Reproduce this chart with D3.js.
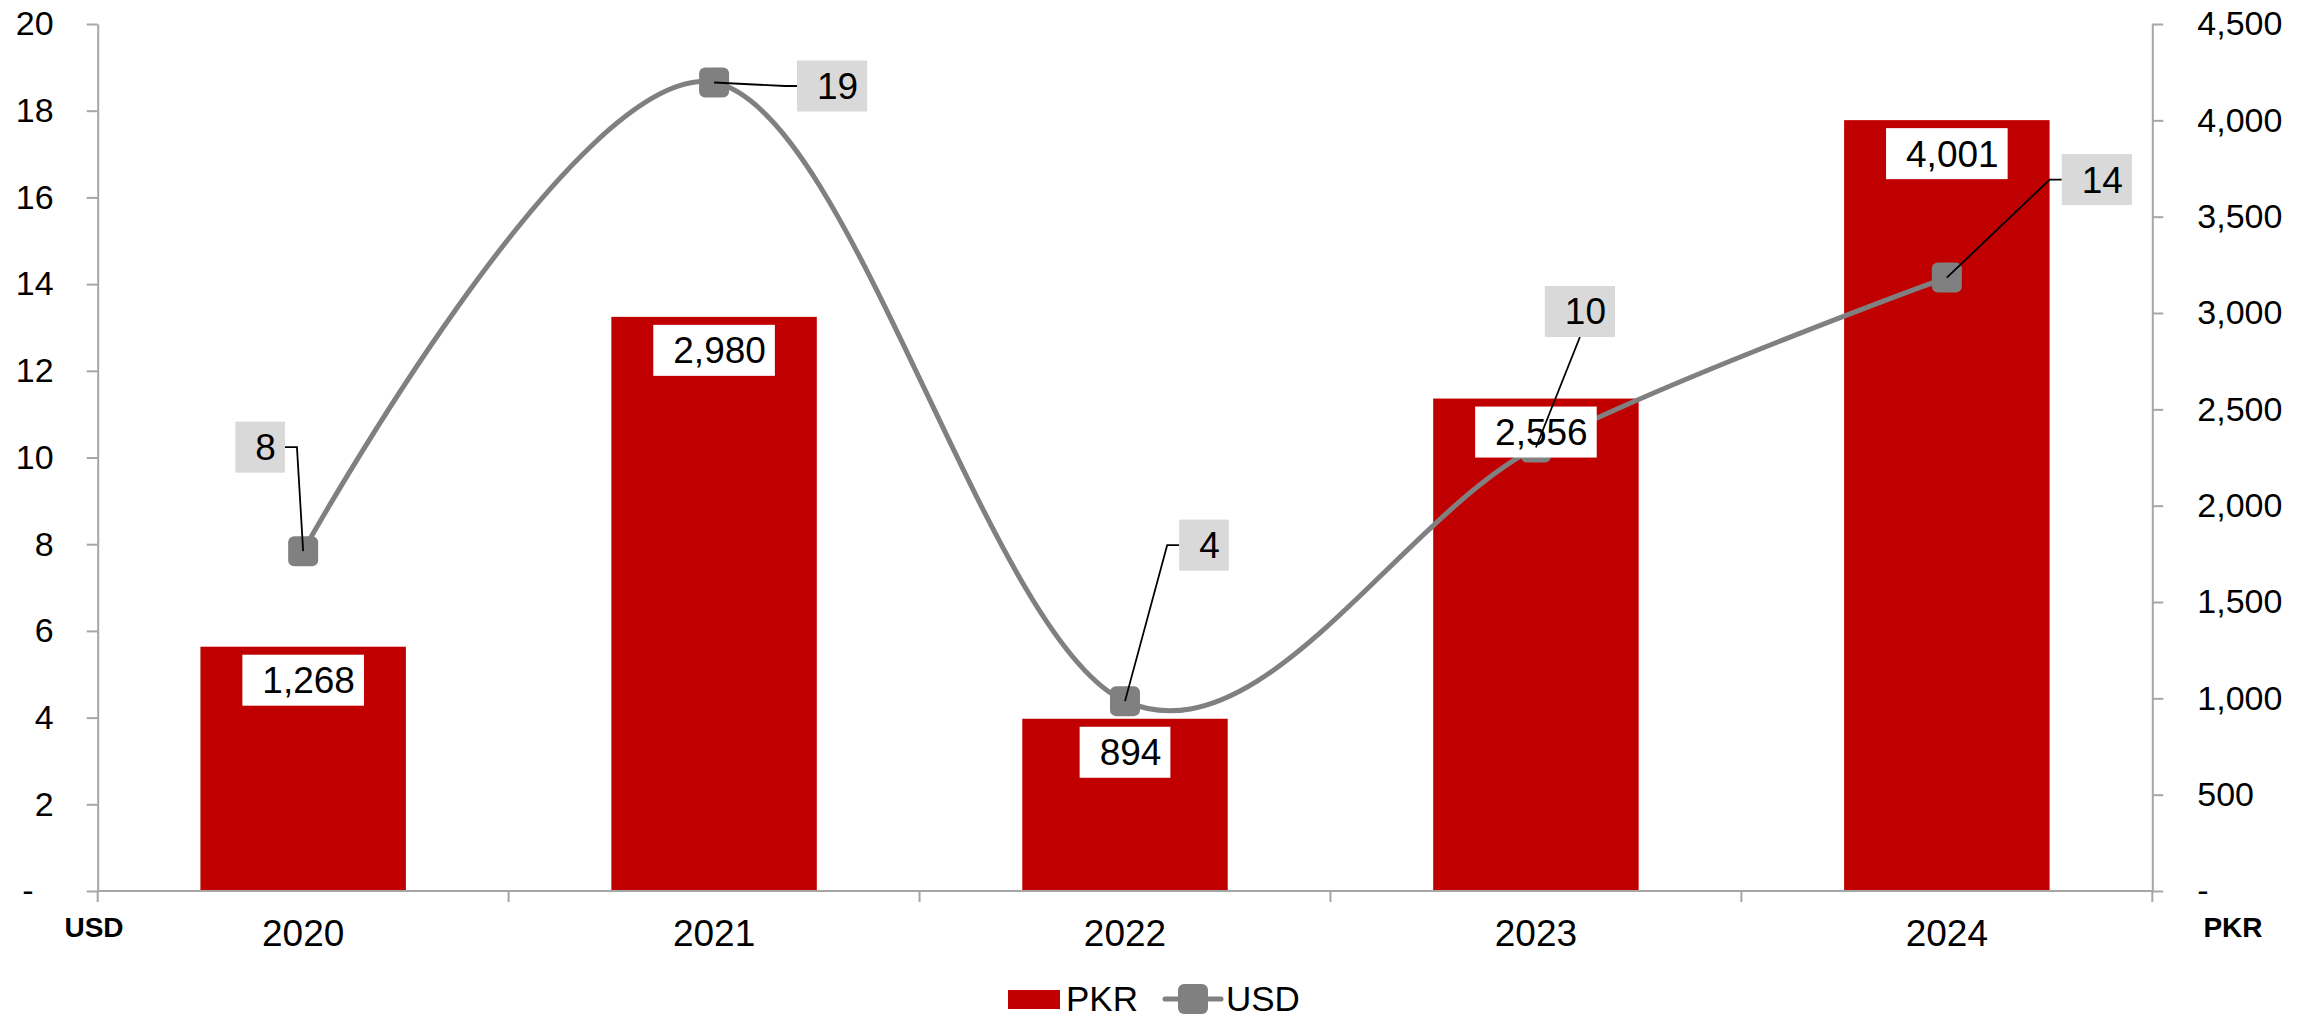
<!DOCTYPE html>
<meta charset="utf-8">
<style>
    body { margin: 0; background: #fff; }
    svg text { font-family: "Liberation Sans", Arial, sans-serif; fill: #000; }
    .axis .domain { stroke: #a6a6a6; stroke-width: 2; }
    .axis line { stroke: #a6a6a6; stroke-width: 2; }
    .leader { stroke: #000; stroke-width: 1.8; fill: none; }
</style>
<svg width="2321" height="1018"></svg>
<script src="https://cdn.jsdelivr.net/npm/d3@7"></script>
<script>

    // data
    var years = ["2020", "2021", "2022", "2023", "2024"];
    var pkr = [1268, 2980, 894, 2556, 4001];
    var usd = [7.84, 18.65, 4.38, 10.23, 14.15];
    var usdLabels = ["8", "19", "4", "10", "14"];
    var leftTicks = [0, 2, 4, 6, 8, 10, 12, 14, 16, 18, 20];
    var rightTicks = [0, 500, 1000, 1500, 2000, 2500, 3000, 3500, 4000, 4500];
    var legendNames = ["PKR", "USD"];

    // where each usd callout sits relative to its marker
    var usdCallout = [
        { dx: -43, dy: -104, side: "right" },
        { dx: 118, dy: 3.5, side: "left" },
        { dx: 79, dy: -156, side: "left" },
        { dx: 44, dy: -136, side: "bottom" },
        { dx: 150, dy: -98, side: "left" }
    ];

    var svg = d3.select("svg");
    var plotLeft = 97.7, plotRight = 2152.3, plotTop = 24, plotBottom = 891;
    var red = "#c00000", grey = "#808080";

    var x = d3.scaleBand()
        .domain(years)
        .range([plotLeft, plotRight])
        .paddingInner(0.5)
        .paddingOuter(0.25);

    var yL = d3.scaleLinear().domain([0, 20]).range([plotBottom, plotTop]);
    var yR = d3.scaleLinear().domain([0, 4500]).range([plotBottom, plotTop]);

    var cx = function (d, i) { return x(years[i]) + x.bandwidth() / 2; };

    // bars
    svg.append("g")
        .selectAll("rect")
        .data(pkr)
        .enter().append("rect")
        .attr("x", function (d, i) { return x(years[i]); })
        .attr("width", x.bandwidth())
        .attr("y", function (d) { return yR(d); })
        .attr("height", function (d) { return plotBottom - yR(d); })
        .attr("fill", red);

    // axes
    var gl = svg.append("g")
        .attr("class", "axis")
        .attr("transform", "translate(" + plotLeft + ",0)")
        .call(d3.axisLeft(yL)
            .tickValues(leftTicks)
            .tickSize(11)
            .tickSizeOuter(0)
            .tickPadding(33)
            .tickFormat(function (d) { return d === 0 ? "-" : d; }))
        .attr("font-size", 34)
        .attr("font-family", null);
    gl.selectAll(".tick text").filter(function (d) { return d === 0; }).attr("dx", -20);

    svg.append("g")
        .attr("class", "axis")
        .attr("transform", "translate(" + plotRight + ",0)")
        .call(d3.axisRight(yR)
            .tickValues(rightTicks)
            .tickSize(11)
            .tickSizeOuter(0)
            .tickPadding(34)
            .tickFormat(function (d) { return d === 0 ? "-" : d3.format(",")(d); }))
        .attr("font-size", 34)
        .attr("font-family", null);

    var gx = svg.append("g")
        .attr("class", "axis")
        .attr("transform", "translate(0," + plotBottom + ")")
        .call(d3.axisBottom(x).tickSize(0).tickPadding(29))
        .attr("font-size", 37)
        .attr("font-family", null);
    gx.select(".domain").attr("d", "M" + plotLeft + ",0H" + plotRight);

    gx.selectAll(".bound")
        .data(d3.range(years.length + 1))
        .enter().append("line")
        .attr("x1", function (i) { return plotLeft + i * x.step(); })
        .attr("x2", function (i) { return plotLeft + i * x.step(); })
        .attr("y1", 0)
        .attr("y2", 11);

    svg.append("text")
        .attr("x", 94).attr("y", 937)
        .attr("text-anchor", "middle")
        .attr("font-weight", "bold")
        .attr("font-size", 28)
        .text("USD");

    svg.append("text")
        .attr("x", 2233).attr("y", 937)
        .attr("text-anchor", "middle")
        .attr("font-weight", "bold")
        .attr("font-size", 28)
        .text("PKR");

    // usd line
    var line = d3.line()
        .x(cx)
        .y(function (d) { return yL(d); })
        .curve(d3.curveCardinal.tension(0));

    svg.append("path")
        .datum(usd)
        .attr("d", line)
        .attr("fill", "none")
        .attr("stroke", grey)
        .attr("stroke-width", 5);

    svg.append("g")
        .selectAll("rect")
        .data(usd)
        .enter().append("rect")
        .attr("x", function (d, i) { return cx(d, i) - 15; })
        .attr("y", function (d) { return yL(d) - 15; })
        .attr("width", 30)
        .attr("height", 30)
        .attr("rx", 6)
        .attr("fill", grey);

    // pkr labels (white boxes)
    var pl = svg.append("g").selectAll("g")
        .data(pkr)
        .enter().append("g");

    pl.append("rect").attr("fill", "#fff");
    pl.append("text")
        .attr("font-size", 37)
        .attr("text-anchor", "end")
        .text(function (d) { return d3.format(",")(d); });

    pl.each(function (d, i) {
        var g = d3.select(this);
        var w = g.select("text").node().getComputedTextLength() + 29;
        var bx = cx(d, i) - w / 2, by = yR(d) + 8;
        g.select("rect").attr("x", bx).attr("y", by).attr("width", w).attr("height", 51);
        g.select("text").attr("x", bx + w - 9).attr("y", by + 25.5).attr("dy", "0.35em");
    });

    // usd labels (grey boxes with leader lines)
    var ul = svg.append("g").selectAll("g")
        .data(usd)
        .enter().append("g");

    ul.append("path").attr("class", "leader");
    ul.append("rect").attr("fill", "#d9d9d9");
    ul.append("text")
        .attr("font-size", 37)
        .attr("text-anchor", "end")
        .text(function (d, i) { return usdLabels[i]; });

    ul.each(function (d, i) {
        var g = d3.select(this);
        var c = usdCallout[i];
        var mx = cx(d, i), my = yL(d);
        var w = g.select("text").node().getComputedTextLength() + 29, h = 51;
        var bxc = mx + c.dx, byc = my + c.dy;
        var bx = bxc - w / 2, by = byc - h / 2;
        g.select("rect").attr("x", bx).attr("y", by).attr("width", w).attr("height", h);
        g.select("text").attr("x", bx + w - 9).attr("y", byc).attr("dy", "0.35em");
        var p;
        if (c.side === "right") p = [[bx + w, byc], [bx + w + 12, byc], [mx, my]];
        else if (c.side === "left") p = [[bx, byc], [bx - 12, byc], [mx, my]];
        else p = [[bxc, by + h], [mx, my]];
        g.select("path").attr("d", d3.line()(p));
    });

    // legend
    var lg = svg.append("g");
    lg.append("rect")
        .attr("x", 1008).attr("y", 990)
        .attr("width", 52).attr("height", 19)
        .attr("fill", red);
    lg.append("line")
        .attr("x1", 1165).attr("x2", 1221)
        .attr("y1", 999).attr("y2", 999)
        .attr("stroke", grey).attr("stroke-width", 5)
        .attr("stroke-linecap", "round");
    lg.append("rect")
        .attr("x", 1178).attr("y", 984)
        .attr("width", 30).attr("height", 30)
        .attr("rx", 6)
        .attr("fill", grey);
    lg.selectAll("text")
        .data(legendNames)
        .enter().append("text")
        .attr("x", function (d, i) { return i ? 1226 : 1066; })
        .attr("y", 1011)
        .attr("font-size", 35)
        .text(function (d) { return d; });

</script>
